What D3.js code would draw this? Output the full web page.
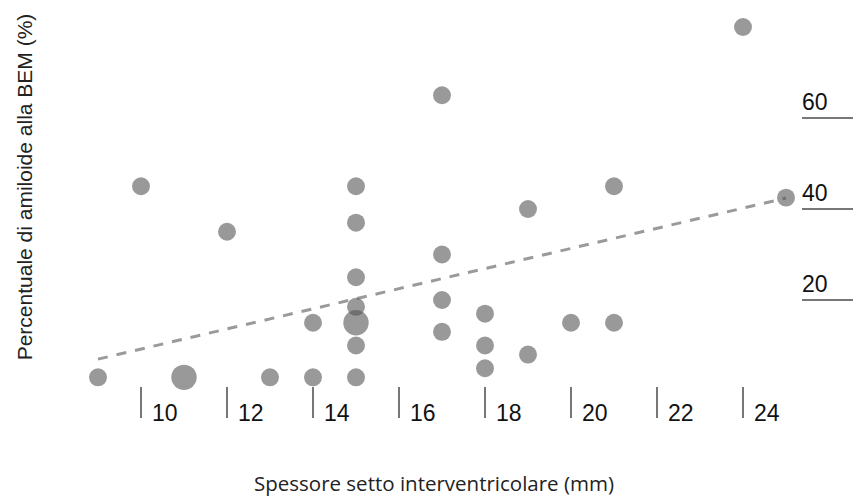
<!DOCTYPE html>
<html>
<head>
<meta charset="utf-8">
<script src="https://cdn.jsdelivr.net/npm/d3@7"></script>
<style>
  body { margin: 0; background: #fff; }
</style>
</head>
<body>
<script>
// septum thickness (mm), amyloid % and number of overlapping patients
const thickness = [9, 10, 11, 12, 13, 14, 14, 15, 15, 15, 15, 15, 15, 15, 17, 17, 17, 17, 18, 18, 18, 19, 19, 20, 21, 21, 24, 25];
const amyloid   = [3, 45, 3, 35, 3, 3, 15, 45, 37, 25, 18.5, 15, 10, 3, 65, 30, 20, 13, 17, 10, 5, 40, 8, 15, 45, 15, 80, 42.5];
const counts    = [1, 1, 2, 1, 1, 1, 1, 1, 1, 1, 1, 2, 1, 1, 1, 1, 1, 1, 1, 1, 1, 1, 1, 1, 1, 1, 1, 1];

const trendX = [9, 25];
const trendY = [7, 42.4];

const xTicks = [10, 12, 14, 16, 18, 20, 22, 24];
const yTicks = [20, 40, 60];

const w = 853;
const h = 500;

const xScale = d3.scaleLinear().domain([10, 24]).range([141, 743]);
const yScale = d3.scaleLinear().domain([0, 60]).range([391, 118]);
const rScale = d3.scaleSqrt().domain([0, 2]).range([0, 12.7]);

const svg = d3.select("body")
  .append("svg")
  .attr("width", w)
  .attr("height", h);

const data = thickness.map((t, i) => ({ x: t, y: amyloid[i], n: counts[i] }));

// regression line (behind the dots)
svg.append("path")
  .datum(trendX.map((x, i) => [x, trendY[i]]))
  .attr("d", d3.line().x(d => xScale(d[0])).y(d => yScale(d[1])))
  .attr("fill", "none")
  .attr("stroke", "#9a9a9a")
  .attr("stroke-width", 3)
  .attr("stroke-dasharray", "10,9");

svg.selectAll("circle")
  .data(data)
  .enter()
  .append("circle")
  .attr("cx", d => xScale(d.x))
  .attr("cy", d => yScale(d.y))
  .attr("r", d => rScale(d.n))
  .attr("fill", "#555")
  .attr("fill-opacity", 0.6);

// x axis: short vertical ticks with the number to their right
const xAxis = svg.append("g").attr("id", "x-axis");
xAxis.selectAll("line")
  .data(xTicks)
  .enter()
  .append("line")
  .attr("x1", d => xScale(d))
  .attr("x2", d => xScale(d))
  .attr("y1", 387)
  .attr("y2", 418)
  .attr("stroke", "#777")
  .attr("stroke-width", 2);
xAxis.selectAll("text")
  .data(xTicks)
  .enter()
  .append("text")
  .attr("x", d => xScale(d) + 11)
  .attr("y", 421)
  .text(d => d)
  .style("font-family", "'Liberation Sans', Arial, sans-serif")
  .style("font-size", "23px")
  .style("fill", "#111");

// y axis on the right: number over a short rule
const yAxis = svg.append("g").attr("id", "y-axis");
yAxis.selectAll("line")
  .data(yTicks)
  .enter()
  .append("line")
  .attr("x1", 802)
  .attr("x2", w)
  .attr("y1", d => yScale(d))
  .attr("y2", d => yScale(d))
  .attr("stroke", "#777")
  .attr("stroke-width", 2);
yAxis.selectAll("text")
  .data(yTicks)
  .enter()
  .append("text")
  .attr("x", 802)
  .attr("y", d => yScale(d) - 8)
  .text(d => d)
  .style("font-family", "'Liberation Sans', Arial, sans-serif")
  .style("font-size", "23px")
  .style("fill", "#111");

svg.append("text")
  .attr("x", 434)
  .attr("y", 491)
  .attr("text-anchor", "middle")
  .text("Spessore setto interventricolare (mm)")
  .style("font-family", "'Open Sans', sans-serif")
  .style("font-size", "20.5px")
  .style("fill", "#222");

svg.append("text")
  .attr("transform", "rotate(-90)")
  .attr("x", -187)
  .attr("y", 32)
  .attr("text-anchor", "middle")
  .text("Percentuale di amiloide alla BEM (%)")
  .style("font-family", "'Liberation Sans', Arial, sans-serif")
  .style("font-size", "21px")
  .style("fill", "#222");
</script>
</body>
</html>
